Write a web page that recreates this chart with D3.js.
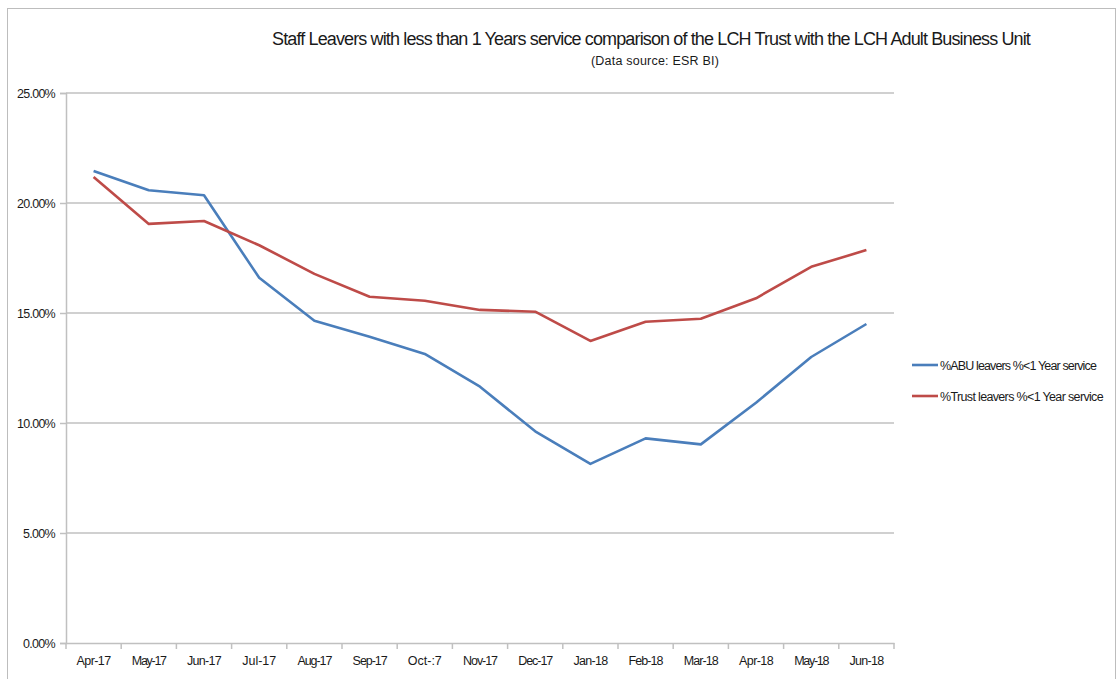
<!DOCTYPE html>
<html>
<head>
<meta charset="utf-8">
<script src="https://cdn.jsdelivr.net/npm/d3@7"></script>
<style>
  html, body { margin: 0; padding: 0; background: #ffffff; }
  svg { display: block; }
  text { font-family: "Liberation Sans", Arial, sans-serif; fill: #1a1a1a; }
</style>
</head>
<body>
<svg id="chart" width="1120" height="679"></svg>
<script>
// Monthly categories
const months = ["Apr-17", "May-17", "Jun-17", "Jul-17", "Aug-17", "Sep-17", "Oct-17", "Nov-17",
                "Dec-17", "Jan-18", "Feb-18", "Mar-18", "Apr-18", "May-18", "Jun-18"];
// Tick labels shown under each month (one label is printed smudged in the source report)
const monthLabels = ["Apr-17", "May-17", "Jun-17", "Jul-17", "Aug-17", "Sep-17", "Oct-:7", "Nov-17",
                     "Dec-17", "Jan-18", "Feb-18", "Mar-18", "Apr-18", "May-18", "Jun-18"];
// % of leavers with less than one year's service
const abuValues   = [21.45, 20.58, 20.35, 16.6, 14.65, 13.92, 13.14, 11.65, 9.62, 8.14, 9.3, 9.03, 10.92, 13.0, 14.5];
const trustValues = [21.18, 19.05, 19.18, 18.08, 16.78, 15.74, 15.56, 15.14, 15.06, 13.73, 14.6, 14.74, 15.67, 17.1, 17.86];
const yTicks = [0, 5, 10, 15, 20, 25];
const seriesNames = ["%ABU leavers %<1 Year service", "%Trust leavers %<1 Year service"];
const seriesColors = ["#4a7ebb", "#be4b48"];

const svg = d3.select("#chart");

// squeeze or widen a text's letter spacing so it spans a given width
function fitWidth(sel, target) {
  sel.each(function () {
    const w = this.getComputedTextLength();
    const n = this.textContent.length;
    if (n > 1) d3.select(this).attr("letter-spacing", ((target - w) / n).toFixed(3));
  });
}

// outer chart frame
svg.append("rect")
  .attr("x", 7.5).attr("y", 8.5).attr("width", 1108).attr("height", 690)
  .attr("fill", "none").attr("stroke", "#bdbdbd").attr("stroke-width", 1);

const plot = { left: 66, right: 894, top: 93, bottom: 643 };

const x = d3.scaleBand().domain(months).range([plot.left, plot.right]).paddingInner(0).paddingOuter(0);
const y = d3.scaleLinear().domain([0, 25]).range([plot.bottom, plot.top]);

// horizontal gridlines
svg.append("g")
  .selectAll("line")
  .data(yTicks.filter(d => d > 0))
  .join("line")
  .attr("x1", plot.left).attr("x2", plot.right)
  .attr("y1", d => y(d)).attr("y2", d => y(d))
  .attr("stroke", "#c0c0c0").attr("stroke-width", 1.5);

// y axis
const yAxis = d3.axisLeft(y).tickValues(yTicks).tickSize(6).tickPadding(5)
  .tickFormat(d => d.toFixed(2) + "%");
const gy = svg.append("g").attr("transform", `translate(${plot.left},0)`).call(yAxis);
gy.select(".domain").attr("stroke", "#c0c0c0").attr("stroke-width", 1.5);
gy.selectAll(".tick line").attr("stroke", "#c0c0c0").attr("stroke-width", 1.5);
gy.selectAll(".tick text").attr("font-size", 12.5).attr("fill", "#1a1a1a")
  .style("font-family", '"Liberation Sans", Arial, sans-serif');
fitWidth(gy.selectAll(".tick text").filter(d => d >= 10), 38);
fitWidth(gy.selectAll(".tick text").filter(d => d < 10), 32);

// x axis with ticks on category boundaries
const xAxis = d3.axisBottom(x).tickSize(0).tickPadding(13)
  .tickFormat((d, i) => monthLabels[i]);
const gx = svg.append("g").attr("transform", `translate(0,${plot.bottom})`).call(xAxis);
gx.select(".domain").attr("stroke", "#c0c0c0").attr("stroke-width", 1.5);
gx.selectAll(".tick text").attr("font-size", 12.5).attr("fill", "#1a1a1a")
  .style("font-family", '"Liberation Sans", Arial, sans-serif');
fitWidth(gx.selectAll(".tick text"), 34);
gx.append("g")
  .selectAll("line")
  .data(months)
  .join("line")
  .attr("x1", d => x(d)).attr("x2", d => x(d))
  .attr("y1", 0).attr("y2", 6)
  .attr("stroke", "#c0c0c0").attr("stroke-width", 1.5);
gx.append("line")
  .attr("x1", plot.right).attr("x2", plot.right).attr("y1", 0).attr("y2", 6)
  .attr("stroke", "#c0c0c0").attr("stroke-width", 1.5);

// series lines
const line = d3.line()
  .x((d, i) => x(months[i]) + x.bandwidth() / 2)
  .y(d => y(d));

[abuValues, trustValues].forEach((vals, k) => {
  svg.append("path")
    .datum(vals)
    .attr("d", line)
    .attr("fill", "none")
    .attr("stroke", seriesColors[k])
    .attr("stroke-width", 2.6)
    .attr("stroke-linejoin", "round");
});

// legend
const legend = svg.append("g").attr("transform", "translate(912,365)");
seriesNames.forEach((name, k) => {
  const g = legend.append("g").attr("transform", `translate(0,${k * 31})`);
  g.append("line").attr("x1", 0).attr("x2", 26).attr("y1", 0).attr("y2", 0)
    .attr("stroke", seriesColors[k]).attr("stroke-width", 2.6);
  const t = g.append("text").attr("x", 28).attr("y", 4.5).attr("font-size", 12.5).text(name);
  fitWidth(t, k === 0 ? 156 : 163);
});

// titles
const title = svg.append("text")
  .attr("x", 651).attr("y", 45)
  .attr("text-anchor", "middle")
  .attr("font-size", 18)
  .text("Staff Leavers with less than 1 Years service comparison of the LCH Trust with the LCH Adult Business Unit");
fitWidth(title, 758);
const sub = svg.append("text")
  .attr("x", 655).attr("y", 65)
  .attr("text-anchor", "middle")
  .attr("font-size", 12.5)
  .text("(Data source: ESR BI)");
fitWidth(sub, 128);
</script>
</body>
</html>
